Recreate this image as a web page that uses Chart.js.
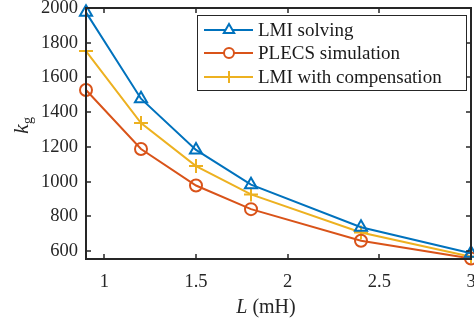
<!DOCTYPE html>
<html><head><meta charset="utf-8">
<script src="https://cdn.jsdelivr.net/npm/chart.js@4.4.0/dist/chart.umd.min.js"></script>
<style>html,body{margin:0;padding:0;background:#fff}#wrap{width:474px;height:330px}</style>
</head><body><div id="wrap"><canvas id="c" width="474" height="330"></canvas></div>
<script>
const xValues = [0.9, 1.2, 1.5, 1.8, 2.4, 3];
const lmiSolving = [1975, 1478, 1183, 983, 738, 588];
const plecsSim = [1528, 1188, 978, 842, 660, 558];
const lmiComp = [1752, 1338, 1090, 927, 708, 568];
const seriesNames = ['LMI solving', 'PLECS simulation', 'LMI with compensation'];
const xTicks = [1, 1.5, 2, 2.5, 3];
const yTicks = [600, 800, 1000, 1200, 1400, 1600, 1800, 2000];

const FONT = '"Liberation Serif", "DejaVu Serif", serif';
const colors = ['#0072BD', '#D95319', '#EDB120'];
const styles = ['triangle', 'circle', 'cross'];
const radii = [7, 6, 7];

function pts(arr){ return xValues.map((x,i)=>({x:x, y:arr[i]})); }

const datasets = [lmiSolving, plecsSim, lmiComp].map((d,i)=>({
  label: seriesNames[i], data: pts(d), borderColor: colors[i], backgroundColor: 'rgba(0,0,0,0)',
  borderWidth: 2, pointStyle: styles[i], pointRadius: radii[i], pointBorderWidth: 2,
  pointBorderColor: colors[i], pointBackgroundColor: 'rgba(0,0,0,0)', tension: 0, clip: false
}));

const decor = {
  id: 'decor',
  afterDraw(chart){
    const ctx = chart.ctx, a = chart.chartArea, xs = chart.scales.x, ys = chart.scales.y;
    ctx.save();
    ctx.strokeStyle = '#262626'; ctx.lineWidth = 2;
    ctx.strokeRect(a.left, a.top, a.right-a.left, a.bottom-a.top);
    ctx.lineWidth = 1.5;
    ctx.beginPath();
    xTicks.forEach(v=>{ const p = Math.round(xs.getPixelForValue(v));
      ctx.moveTo(p, a.bottom); ctx.lineTo(p, a.bottom-5); ctx.moveTo(p, a.top); ctx.lineTo(p, a.top+5); });
    yTicks.forEach(v=>{ const p = Math.round(ys.getPixelForValue(v));
      ctx.moveTo(a.left, p); ctx.lineTo(a.left+5, p); ctx.moveTo(a.right, p); ctx.lineTo(a.right-5, p); });
    ctx.stroke();
    // tick labels
    ctx.fillStyle = '#262626'; ctx.font = '18.5px ' + FONT;
    ctx.textAlign = 'right'; ctx.textBaseline = 'middle';
    yTicks.forEach(v=>{ ctx.fillText(String(v), a.left-8, ys.getPixelForValue(v)); });
    ctx.textAlign = 'center';
    xTicks.forEach(v=>{ ctx.fillText(String(v), xs.getPixelForValue(v), 282); });
    // axis titles
    ctx.font = 'italic 20px ' + FONT;
    const t1 = 'L', t2 = ' (mH)';
    ctx.textAlign = 'left';
    const w1 = ctx.measureText(t1).width;
    ctx.font = '20px ' + FONT;
    const w2 = ctx.measureText(t2).width;
    const sx = 266 - (w1+w2)/2;
    ctx.font = 'italic 20px ' + FONT; ctx.fillText(t1, sx, 308);
    ctx.font = '20px ' + FONT; ctx.fillText(t2, sx+w1, 308);
    // y title k_g rotated
    ctx.save();
    ctx.translate(22, 124); ctx.rotate(-Math.PI/2);
    ctx.textAlign = 'left';
    ctx.font = 'italic 22px ' + FONT; ctx.fillText('k', -10, 0);
    ctx.font = '14px ' + FONT; ctx.fillText('g', 0, 6);
    ctx.restore();
    // legend
    const lx = 197, ly = 15, lw = 269, lh = 75;
    ctx.fillStyle = '#fff'; ctx.fillRect(lx, ly, lw, lh);
    ctx.strokeStyle = '#262626'; ctx.lineWidth = 1;
    ctx.strokeRect(lx+0.5, ly+0.5, lw, lh);
    const rows = [30, 53, 77];
    datasets.forEach((ds,i)=>{
      const y = rows[i];
      ctx.strokeStyle = colors[i]; ctx.lineWidth = 2;
      ctx.beginPath(); ctx.moveTo(204, y); ctx.lineTo(253, y); ctx.stroke();
      ctx.fillStyle = '#fff';
      Chart.helpers.drawPoint(ctx, {pointStyle: styles[i], radius: radii[i]-1, borderWidth: 2}, 229, y);
      ctx.fillStyle = '#1a1a1a'; ctx.font = '19px ' + FONT; ctx.textAlign = 'left'; ctx.textBaseline = 'middle';
      ctx.fillText(ds.label, 258, y+1);
    });
    ctx.restore();
  }
};

new Chart(document.getElementById('c'), {
  type: 'line',
  data: { datasets },
  options: {
    responsive: false, animation: false, devicePixelRatio: 1,
    layout: { autoPadding: false, padding: { left: 0, right: 3, top: 8, bottom: 0 } },
    plugins: { legend: { display: false }, tooltip: { enabled: false } },
    scales: {
      x: { type: 'linear', min: 0.9, max: 3,
        grid: { display: false }, border: { display: false },
        ticks: { display: false },
        afterFit(s){ s.height = 71; } },
      y: { type: 'linear', min: 555, max: 2000,
        grid: { display: false }, border: { display: false },
        ticks: { display: false },
        afterFit(s){ s.width = 86; } }
    }
  },
  plugins: [decor]
});
</script></body></html>
